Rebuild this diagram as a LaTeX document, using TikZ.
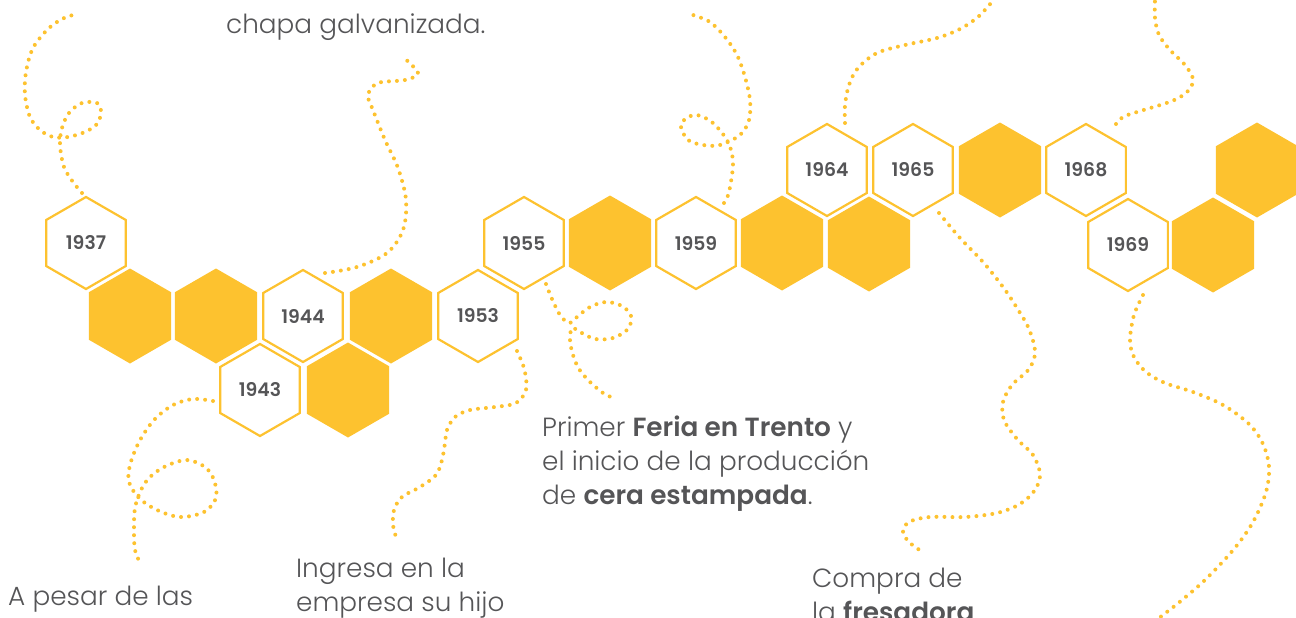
\documentclass[tikz,border=0pt]{standalone}
\usepackage{fontspec}
\setmainfont{Poppins}[UprightFont={* Light},BoldFont={* SemiBold}]
\usetikzlibrary{shapes.geometric}
\definecolor{hexyel}{RGB}{253,194,47}
\definecolor{txtgray}{RGB}{85,85,87}
\begin{document}
\begin{tikzpicture}[x=1pt,y=-1pt,
  hexo/.style={regular polygon, regular polygon sides=6, shape border rotate=30, minimum size=92pt, inner sep=0pt, draw=hexyel, line width=2.2pt, fill=white, text=txtgray, font=\bfseries\fontsize{18.8}{20}\selectfont},
  hexf/.style={regular polygon, regular polygon sides=6, shape border rotate=30, minimum size=95pt, inner sep=0pt, fill=hexyel},
  dotline/.style={draw=hexyel, line width=4pt, line cap=round, dash pattern=on 0pt off 8pt},
  body/.style={anchor=base west, inner sep=0pt, text=txtgray, font=\fontsize{26.3}{34}\selectfont}
]
\useasboundingbox (0,0) rectangle (1296,618);

% dotted squiggles
\coordinate (s1) at (82,193);
\draw[dotline] plot[smooth, tension=0.55] coordinates {(s1) (73,182) (64,167) (60,145) (62,128) (69,113) (82,103) (97,103) (101,112) (97,124) (85,132) (68,137) (53,137) (40,130) (30,117) (25,95) (26,72) (33,48) (48,29) (62,19) (73,15)};
\coordinate (s2) at (325,273);
\draw[dotline] plot[smooth, tension=0.55] coordinates {(s2) (357,267) (387,253) (403,230) (406,200) (398,168) (385,140) (373,110) (368,95) (378,83) (405,80) (418,73) (403,57)};
\coordinate (s3) at (724,203);
\draw[dotline] plot[smooth, tension=0.55] coordinates {(s3) (729,192) (733,163) (728,142) (713,123) (697,115) (685,119) (681,127) (688,140) (703,145) (720,145) (740,135) (749,120) (750,100) (745,77) (737,55) (725,37) (710,22) (693,15)};
\coordinate (s4) at (845,123);
\draw[dotline] plot[smooth, tension=0.55] coordinates {(s4) (845,105) (849,85) (858,68) (877,53) (905,45) (937,38) (960,29) (978,17) (991,3)};
\coordinate (s5) at (1116,124);
\draw[dotline] plot[smooth, tension=0.55] coordinates {(s5) (1123,117) (1137,112) (1172,101) (1188,91) (1193,79) (1185,65) (1170,50) (1159,35) (1155,18) (1155,0)};
\coordinate (s6) at (939,213);
\draw[dotline] plot[smooth, tension=0.55] coordinates {(s6) (960,238) (983,262) (1003,287) (1017,308) (1029,329) (1035,352) (1029,369) (1012,385) (1003,402) (1004,420) (1017,439) (1033,455) (1040,474) (1035,490) (1020,504) (997,513) (965,517) (930,517) (909,522) (903,532) (909,542) (921,551)};
\coordinate (s7) at (1143,295);
\draw[dotline] plot[smooth, tension=0.55] coordinates {(s7) (1134,315) (1130,340) (1134,357) (1146,372) (1165,383) (1193,392) (1223,405) (1249,424) (1263,444) (1269,467) (1266,492) (1253,522) (1234,549) (1206,579) (1182,600) (1163,615) (1150,625)};
\coordinate (s8) at (546,284);
\draw[dotline] plot[smooth, tension=0.55] coordinates {(s8) (552,299) (560,315) (569,323) (577,317) (590,307) (606,302) (622,306) (631,316) (628,329) (613,338) (595,339) (580,332) (572,328) (570,340) (573,355) (579,369) (590,382) (603,393) (611,397)};
\coordinate (s9) at (517,351);
\draw[dotline] plot[smooth, tension=0.55] coordinates {(s9) (521,360) (525,372) (526,390) (516,403) (495,407) (470,410) (455,417) (447,430) (445,443) (442,460) (436,475) (420,487) (402,497) (394,510) (393,525) (396,537)};
\coordinate (s10) at (213,401);
\draw[dotline] plot[smooth, tension=0.55] coordinates {(s10) (193,399) (173,405) (154,420) (139,442) (130,465) (129,482) (139,498) (157,510) (180,517) (204,512) (216,498) (214,480) (205,467) (187,460) (166,466) (150,477) (141,490) (135,508) (134,530) (135,550) (141,565)};

% hexagons row A
\node[hexo] (h1964) at (827,170) {1964};
\node[hexo] (h1965) at (913,170) {1965};
\node[hexf] (fA1) at (1000,170) {};
\node[hexo] (h1968) at (1086,170) {1968};
\node[hexf] (fA2) at (1257,170) {};
% row B
\node[hexo] (h1937) at (86,243) {1937};
\node[hexo] (h1955) at (524,243) {1955};
\node[hexf] (fB1) at (610,243) {};
\node[hexo] (h1959) at (696,243) {1959};
\node[hexf] (fB2) at (782,243) {};
\node[hexf] (fB3) at (869,244) {};
\node[hexo] (h1969) at (1128,245) {1969};
\node[hexf] (fB4) at (1213,245) {};
% row C
\node[hexf] (fC1) at (130,316) {};
\node[hexf] (fC2) at (216,316) {};
\node[hexo] (h1944) at (303,316) {1944};
\node[hexf] (fC3) at (391,316) {};
\node[hexo] (h1953) at (478,316) {1953};
% row D
\node[hexo] (h1943) at (260,390) {1943};
\node[hexf] (fD1) at (348,390) {};

% texts
\node[body] (t0) at (226,34) {chapa galvanizada.};
\node[body] (t1a) at (542,436) {Primer \textbf{Feria en Trento} y};
\node[body] (t1b) at (542,470) {el inicio de la producción};
\node[body] (t1c) at (542,504) {de \textbf{cera estampada}.};
\node[body] (t2a) at (296,577) {Ingresa en la};
\node[body] (t2b) at (296,611) {empresa su hijo};
\node[body] (t3) at (8,605) {A pesar de las};
\node[body] (t4a) at (812,587) {Compra de};
\node[body] (t4b) at (812,621) {la \textbf{fresadora}};
\end{tikzpicture}
\end{document}
